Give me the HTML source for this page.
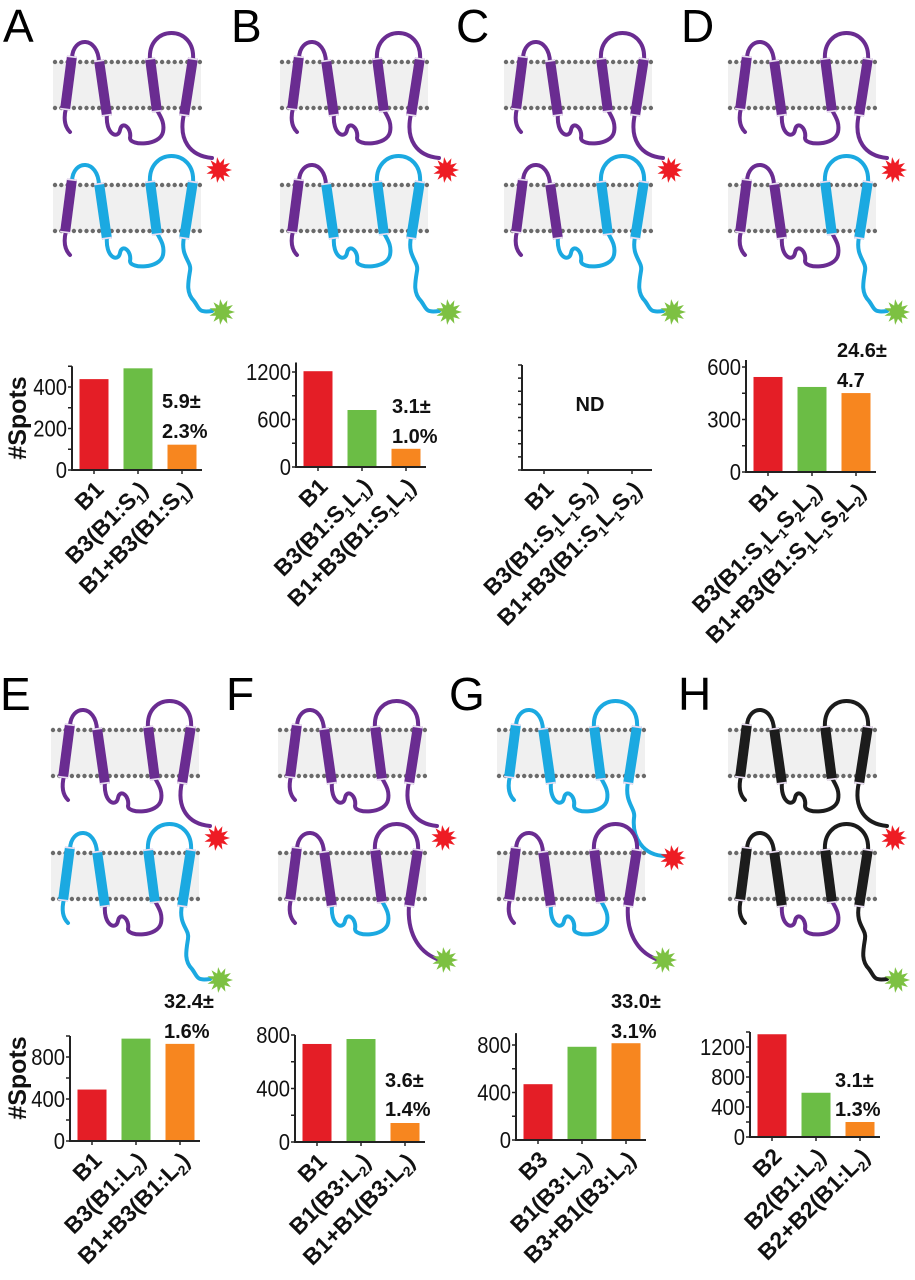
<!DOCTYPE html>
<html><head><meta charset="utf-8">
<style>
html,body{margin:0;padding:0;background:#fff;}
svg{display:block;font-family:"Liberation Sans",Arial,sans-serif;}
</style></head>
<body>
<svg id="fig" width="915" height="1280" viewBox="0 0 915 1280" xmlns="http://www.w3.org/2000/svg"></svg>
<script>
// ---------- chart data ----------
const catsA=["B1","B3(B1:S_1)","B1+B3(B1:S_1)"];
const valsA=[438,490,122];
const ticksA=[0,200,400];
const catsB=["B1","B3(B1:S_1L_1)","B1+B3(B1:S_1L_1)"];
const valsB=[1210,720,230];
const ticksB=[0,600,1200];
const catsC=["B1","B3(B1:S_1L_1S_2)","B1+B3(B1:S_1L_1S_2)"];
const valsC=[];
const ticksC=[];
const catsD=["B1","B3(B1:S_1L_1S_2L_2)","B1+B3(B1:S_1L_1S_2L_2)"];
const valsD=[543,486,451];
const ticksD=[0,300,600];
const catsE=["B1","B3(B1:L_2)","B1+B3(B1:L_2)"];
const valsE=[490,975,925];
const ticksE=[0,400,800];
const catsF=["B1","B1(B3:L_2)","B1+B1(B3:L_2)"];
const valsF=[733,770,142];
const ticksF=[0,400,800];
const catsG=["B3","B1(B3:L_2)","B3+B1(B3:L_2)"];
const valsG=[470,785,815];
const ticksG=[0,400,800];
const catsH=["B2","B2(B1:L_2)","B2+B2(B1:L_2)"];
const valsH=[1370,590,200];
const ticksH=[0,400,800,1200];
const annA=["5.9±","2.3%"], annB=["3.1±","1.0%"], annD=["24.6±","4.7"], annE=["32.4±","1.6%"];
const annF=["3.6±","1.4%"], annG=["33.0±","3.1%"], annH=["3.1±","1.3%"];

const NS="http://www.w3.org/2000/svg";
const svg=document.getElementById('fig');
function mk(tag,attrs,parent){const e=document.createElementNS(NS,tag);for(const k in attrs)e.setAttribute(k,attrs[k]);(parent||svg).appendChild(e);return e;}
const BAR_COLORS=['#e41e26','#6bbd45','#f7861f'];

const layouts=[
 {id:'a',cats:catsA,vals:valsA,ticks:ticksA,x0:72,base:470,refV:400,refY:387,top:500,ann:annA,annX:162,annY:[408,438],ylabel:true},
 {id:'b',cats:catsB,vals:valsB,ticks:ticksB,x0:296,base:467,refV:1200,refY:372,top:1320,ann:annB,annX:392,annY:[413,443]},
 {id:'c',cats:catsC,vals:valsC,ticks:ticksC,x0:522,base:470,refV:1000,refY:365,top:1000,nd:true},
 {id:'d',cats:catsD,vals:valsD,ticks:ticksD,x0:746,base:472,refV:600,refY:367,top:640,ann:annD,annX:837,annY:[357,387]},
 {id:'e',cats:catsE,vals:valsE,ticks:ticksE,x0:70,base:1141,refV:800,refY:1057,top:1000,ann:annE,annX:164,annY:[1008,1038],ylabel:true},
 {id:'f',cats:catsF,vals:valsF,ticks:ticksF,x0:295,base:1142,refV:800,refY:1035,top:800,ann:annF,annX:385,annY:[1087,1116]},
 {id:'g',cats:catsG,vals:valsG,ticks:ticksG,x0:516,base:1140,refV:800,refY:1045,top:900,ann:annG,annX:611,annY:[1008,1038]},
 {id:'h',cats:catsH,vals:valsH,ticks:ticksH,x0:750,base:1137,refV:1200,refY:1047,top:1400,ann:annH,annX:835,annY:[1087,1116]}
];

function addLabel(parent,str,x,y){
  const t=mk('text',{x:0,y:0,'text-anchor':'end','font-size':23,'font-weight':'bold',fill:'#111',transform:`translate(${x},${y}) rotate(-45)`},parent);
  
  
  const parts=str.split(/(_\d)/);
  parts.forEach(p=>{
    if(!p)return;
    if(p[0]==='_'){
      const s=mk('tspan',{'font-size':14,dy:5},t);s.textContent=p[1];
      const r=mk('tspan',{dy:-5},t);r.textContent='\u200b';
    } else {const s=mk('tspan',{},t);s.textContent=p;}
  });
}

layouts.forEach(L=>{
  const g=mk('g',{});
  
  
  const k=(L.base-L.refY)/L.refV;
  const y=v=>L.base-v*k;
  const xc=i=>L.x0+22+i*44;
  const right=L.x0+22+2*44+20;
  L.vals.forEach((v,i)=>{
    const r=mk('rect',{x:xc(i)-14.5,y:y(v),width:29,height:L.base-y(v),fill:BAR_COLORS[i]},g);
    
    
  });
  const ya=mk('line',{x1:L.x0,y1:y(L.top),x2:L.x0,y2:L.base+1,stroke:'#222','stroke-width':2},g);
  
  
  const xa=mk('line',{x1:L.x0-1,y1:L.base,x2:right,y2:L.base,stroke:'#222','stroke-width':2},g);
  
  
  const step=L.ticks.length>1?L.ticks[1]-L.ticks[0]:L.top/4;
  for(let v=0;v<=L.top+0.01;v+=step/2){
    mk('line',{x1:L.x0-4,y1:y(v),x2:L.x0,y2:y(v),stroke:'#222','stroke-width':1.5},g);
  }
  L.ticks.forEach(v=>{
    const t=mk('text',{x:0,y:0,'text-anchor':'end','font-size':23,fill:'#111',transform:`translate(${L.x0-5},${y(v)+8}) scale(0.88,1)`},g);
    
    
    t.textContent=v;
  });
  L.cats.forEach((c,i)=>{
    mk('line',{x1:xc(i),y1:L.base,x2:xc(i),y2:L.base+4,stroke:'#222','stroke-width':1.5},g);
    addLabel(g,c,xc(i)+11,L.base+21);
  });
  if(L.ann){
    L.ann.forEach((a,j)=>{
      const t=mk('text',{x:L.annX,y:L.annY[j],'font-size':20,'font-weight':'bold',fill:'#111'},g);
      
      
      t.textContent=a;
    });
  }
  if(L.nd){
    const t=mk('text',{x:590,y:411,'text-anchor':'middle','font-size':20,'font-weight':'bold',fill:'#111'},g);
    
    
    t.textContent='ND';
  }
  if(L.ylabel){
    const cy=L.id==='a'?418:1078;
    const t=mk('text',{x:0,y:0,'text-anchor':'middle','font-size':25,'font-weight':'bold',fill:'#111',transform:`translate(26,${cy}) rotate(-90)`},g);
    
    
    t.textContent='#Spots';
  }
});

// ---------- schematics ----------
const P='#6a2c91', C='#1ba9e1', K='#1c1c1c';
function star(g,cx,cy,col,name){
  let pts=[];
  for(let i=0;i<22;i++){const r=i%2?7:13;const a=i*Math.PI/11;pts.push((cx+r*Math.cos(a)).toFixed(1)+','+(cy+r*Math.sin(a)).toFixed(1));}
  const p=mk('polygon',{points:pts.join(' '),fill:col},g);
  
  
}
function membrane(g,ox,oy){
  const m=mk('g',{},g);
  
  
  mk('rect',{x:ox+53,y:oy+62,width:148,height:46,fill:'#f0f0f0'},m);
  for(let x=ox+55;x<=ox+200;x+=6.3){
    mk('circle',{cx:x,cy:oy+62,r:2.2,fill:'#6a6a6a'},m);
    mk('circle',{cx:x,cy:oy+108,r:2.2,fill:'#6a6a6a'},m);
  }
}
function protein(ox,oy,cols,tail,name){
  const g=mk('g',{transform:`translate(${ox},${oy})`});
  
  
  membrane(g,0,0);
  const thin={fill:'none','stroke-width':4,'stroke-linecap':'round'};
  const tails={
    red:'M184,114 C178,140 190,156 212,158',
    wavy:'M184,114 C180,134 192,138 190,148 C188,160 186,170 194,178 C200,186 198,190 212,188',
    redlow:'M184,114 C180,135 192,140 190,150 C188,168 198,188 222,188',
    short:'M184,114 C182,140 192,160 212,168'
  };
  const loops=[[0,'M66,108 Q62,124 70,132'],[2,'M72,58 C73,36 98,36 99,62'],
    [4,'M107,114 C105,134 118,140 120,130 C122,120 132,128 130,138 C130,146 160,146 163,132 C165,122 160,116 157,110'],
    [6,'M150,60 C147,24 196,24 193,60'],[8,tails[tail]]];
  loops.forEach(([i,d])=>{mk('path',Object.assign({d,stroke:cols[i]},thin),g);});
  const hel=[[1,72,56,65,110],[3,99,60,107,116],[5,150,58,157,112],[7,193,58,184,116]];
  hel.forEach(([i,x1,y1,x2,y2])=>{
    mk('line',{x1,y1,x2,y2,stroke:cols[i],'stroke-width':10},g);
    mk('line',{x1,y1,x2:x1+(x2-x1)*0.03,y2:y1+(y2-y1)*0.03,stroke:'#e8dcf0','stroke-width':10},g);
    mk('line',{x1:x2,y1:y2,x2:x2-(x2-x1)*0.03,y2:y2-(y2-y1)*0.03,stroke:'#e8dcf0','stroke-width':10},g);
  });
  return g;
}
const all=(c)=>Array(9).fill(c);
const panels=[
 {L:'A',lx:3,ox:0,oy:0,top:all(P),bot:[P,P,C,C,C,C,C,C,C],tt:'red',bt:'wavy',gs:[222,312]},
 {L:'B',lx:231,ox:227,oy:0,top:all(P),bot:[P,P,P,C,C,C,C,C,C],tt:'red',bt:'wavy',gs:[222,312]},
 {L:'C',lx:456,ox:451,oy:0,top:all(P),bot:[P,P,P,P,C,C,C,C,C],tt:'red',bt:'wavy',gs:[222,312]},
 {L:'D',lx:681,ox:675,oy:0,top:all(P),bot:[P,P,P,P,P,C,C,C,C],tt:'red',bt:'wavy',gs:[222,312]},
 {L:'E',lx:0,ox:-2,oy:668,top:all(P),bot:[C,C,C,C,P,C,C,C,C],tt:'red',bt:'wavy',gs:[222,312]},
 {L:'F',lx:226,ox:225,oy:668,top:all(P),bot:[P,P,P,P,C,P,P,P,P],tt:'red',bt:'short',gs:[220,292]},
 {L:'G',lx:449,ox:444,oy:668,top:all(C),bot:[P,P,P,P,C,P,P,P,P],tt:'redlow',bt:'short',gs:[220,292],rs:[229,190]},
 {L:'H',lx:678,ox:675,oy:668,top:all(K),bot:[K,K,K,K,P,K,K,K,K],tt:'red',bt:'wavy',gs:[222,312]}
];
panels.forEach(p=>{
  const t=mk('text',{x:p.lx,y:p.oy+42,'font-size':46,fill:'#000'});
  
  
  t.textContent=p.L;
  protein(p.ox,p.oy,p.top,p.tt,'protein-top-'+p.L.toLowerCase());
  protein(p.ox,p.oy+123,p.bot,p.bt,'protein-bottom-'+p.L.toLowerCase());
  const rs=p.rs||[219,170];
  star(svg,p.ox+rs[0],p.oy+rs[1],'#ee1c24','red-fluorophore');
  star(svg,p.ox+p.gs[0],p.oy+p.gs[1],'#7dc142','green-fluorophore');
});
</script>
</body></html>
